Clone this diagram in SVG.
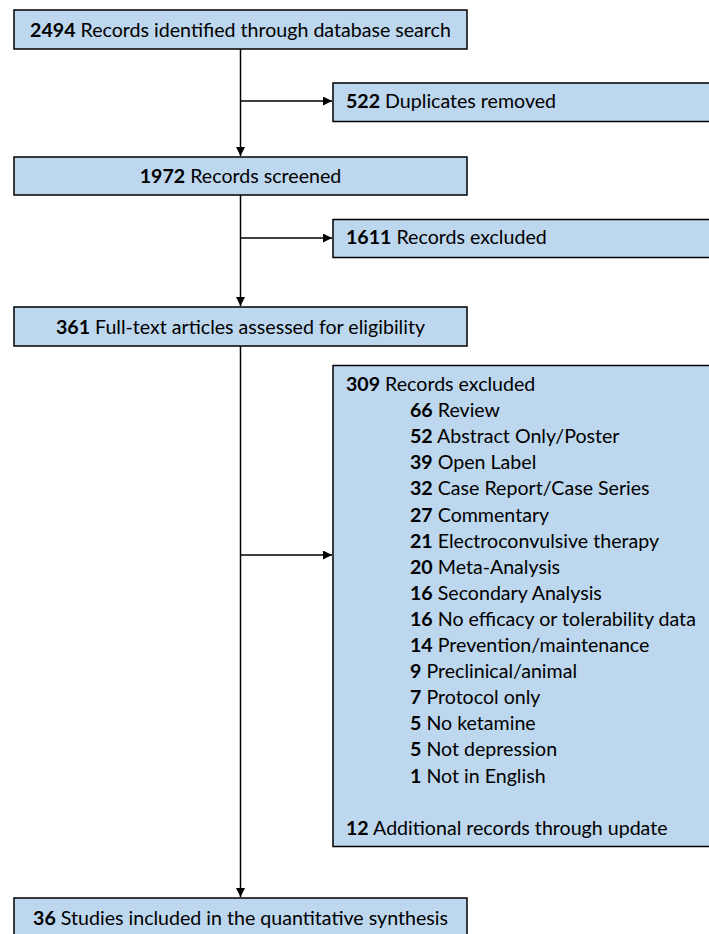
<svg xmlns="http://www.w3.org/2000/svg" width="709" height="934" viewBox="0 0 709 934">
  <defs>
    <marker id="arrow" viewBox="0 0 10 10" refX="10" refY="5" markerWidth="9" markerHeight="9" markerUnits="userSpaceOnUse" orient="auto">
      <path d="M0,0 L10,5 L0,10 Z" fill="#000"/>
    </marker>
    <style>
      .box { fill: #BDD7EE; stroke: #000; stroke-width: 1.5; }
      .t { font-family: Lato, "Liberation Sans", sans-serif; font-size: 19.6px; fill: #000; }
      .c { text-anchor: middle; }
      .b { font-weight: bold; }
      .conn { stroke: #000; stroke-width: 1.5; fill: none; }
    </style>
  </defs>
  <rect width="709" height="934" fill="#fff"/>

  <g id="connectors">
    <line class="conn" x1="240.5" y1="49" x2="240.5" y2="156" marker-end="url(#arrow)"/>
    <line class="conn" x1="240.5" y1="101" x2="332" y2="101" marker-end="url(#arrow)"/>
    <line class="conn" x1="240.5" y1="195" x2="240.5" y2="306" marker-end="url(#arrow)"/>
    <line class="conn" x1="240.5" y1="238" x2="332" y2="238" marker-end="url(#arrow)"/>
    <line class="conn" x1="240.5" y1="346" x2="240.5" y2="897" marker-end="url(#arrow)"/>
    <line class="conn" x1="240.5" y1="555" x2="332" y2="555" marker-end="url(#arrow)"/>
  </g>

  <g id="identified">
    <rect class="box" x="14" y="10" width="453" height="39"/>
    <text class="t c" x="240.5" y="36.5"><tspan class="b">2494</tspan> Records identified through database search</text>
  </g>

  <g id="duplicates">
    <rect class="box" x="333" y="83" width="390" height="38.5"/>
    <text class="t" x="346" y="108"><tspan class="b">522</tspan> Duplicates removed</text>
  </g>

  <g id="screened">
    <rect class="box" x="14" y="157" width="453" height="38"/>
    <text class="t c" x="240.5" y="183"><tspan class="b">1972</tspan> Records screened</text>
  </g>

  <g id="excluded1">
    <rect class="box" x="333" y="219.5" width="390" height="38"/>
    <text class="t" x="346" y="243.5"><tspan class="b">1611</tspan> Records excluded</text>
  </g>

  <g id="fulltext">
    <rect class="box" x="14" y="307" width="453" height="39"/>
    <text class="t c" x="240.5" y="334"><tspan class="b">361</tspan> Full-text articles assessed for eligibility</text>
  </g>

  <g id="excluded2">
    <rect class="box" x="333" y="365.5" width="390" height="481"/>
    <text class="t" x="346" y="391"><tspan class="b">309</tspan> Records excluded</text>
    <text class="t" x="410" y="417.1"><tspan class="b">66</tspan> Review</text>
    <text class="t" x="410" y="443.2"><tspan class="b">52</tspan> Abstract Only/Poster</text>
    <text class="t" x="410" y="469.3"><tspan class="b">39</tspan> Open Label</text>
    <text class="t" x="410" y="495.4"><tspan class="b">32</tspan> Case Report/Case Series</text>
    <text class="t" x="410" y="521.5"><tspan class="b">27</tspan> Commentary</text>
    <text class="t" x="410" y="547.6"><tspan class="b">21</tspan> Electroconvulsive therapy</text>
    <text class="t" x="410" y="573.7"><tspan class="b">20</tspan> Meta-Analysis</text>
    <text class="t" x="410" y="599.8"><tspan class="b">16</tspan> Secondary Analysis</text>
    <text class="t" x="410" y="625.9"><tspan class="b">16</tspan> No efficacy or tolerability data</text>
    <text class="t" x="410" y="652"><tspan class="b">14</tspan> Prevention/maintenance</text>
    <text class="t" x="410" y="678.1"><tspan class="b">9</tspan> Preclinical/animal</text>
    <text class="t" x="410" y="704.2"><tspan class="b">7</tspan> Protocol only</text>
    <text class="t" x="410" y="730.3"><tspan class="b">5</tspan> No ketamine</text>
    <text class="t" x="410" y="756.4"><tspan class="b">5</tspan> Not depression</text>
    <text class="t" x="410" y="782.5"><tspan class="b">1</tspan> Not in English</text>
    <text class="t" x="346" y="834.7"><tspan class="b">12</tspan> Additional records through update</text>
  </g>

  <g id="included">
    <rect class="box" x="14" y="898" width="453" height="50"/>
    <text class="t c" x="240.5" y="925"><tspan class="b">36</tspan> Studies included in the quantitative synthesis</text>
  </g>
</svg>
